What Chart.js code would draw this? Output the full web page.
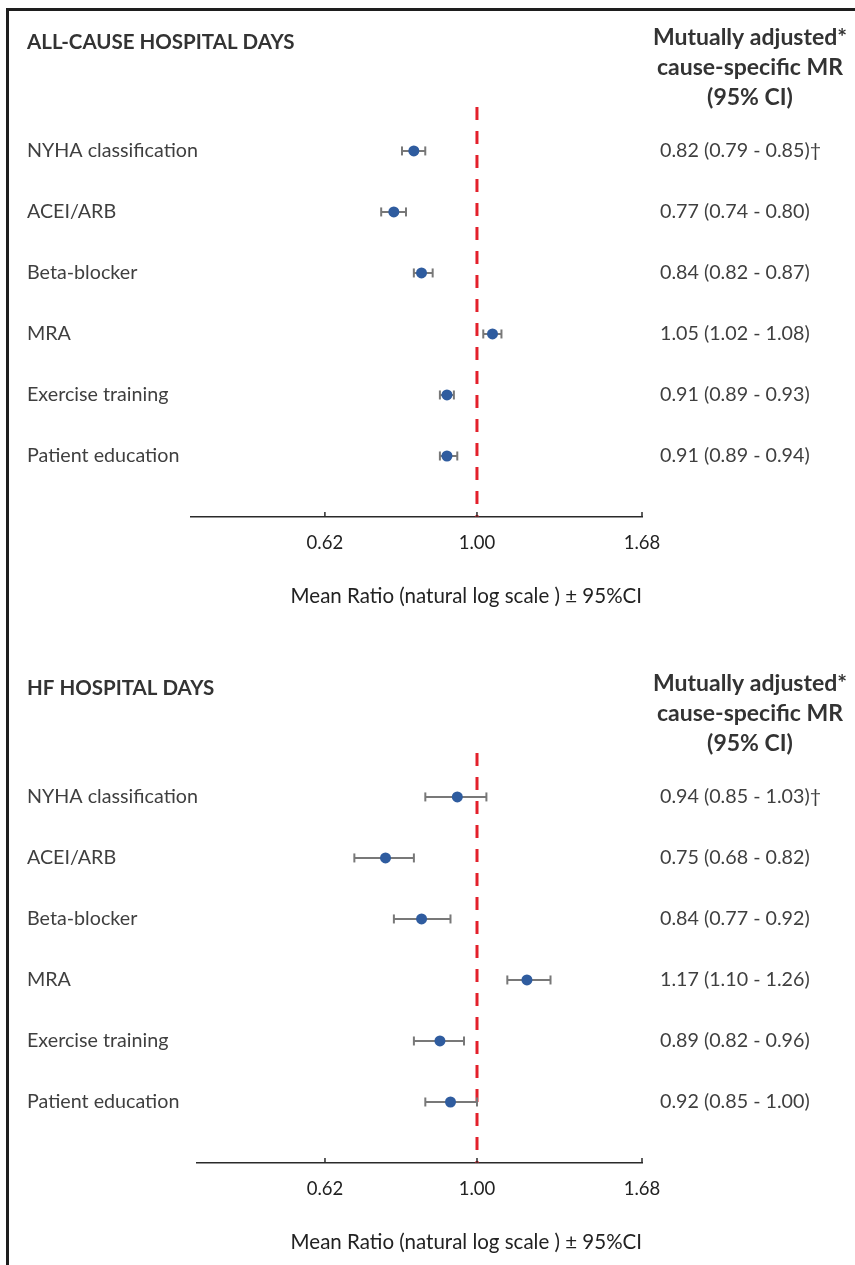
<!DOCTYPE html>
<html>
<head>
<meta charset="utf-8">
<title>Mutually adjusted cause-specific mean ratios</title>
<script src="https://cdn.jsdelivr.net/npm/chart.js@4.4.1/dist/chart.umd.min.js"></script>
<style>
  html, body { margin: 0; padding: 0; background: #ffffff; overflow: hidden; }
  body { width: 855px; height: 1265px; position: relative; }
  canvas { position: absolute; left: 0; }
  #frame {
    position: absolute; left: 6px; top: 8px; right: -20px; bottom: -20px;
    border-left: 3px solid #1e1e1e; border-top: 3px solid #1e1e1e;
    pointer-events: none;
  }
</style>
</head>
<body>
<canvas id="allCause" width="855" height="646" style="top:0"></canvas>
<canvas id="hfDays" width="855" height="646" style="top:646px"></canvas>
<div id="frame"></div>
<script>
// Rows, from top to bottom
const categories = ['NYHA classification', 'ACEI/ARB', 'Beta-blocker', 'MRA', 'Exercise training', 'Patient education'];
const rowNotes = ['†', '', '', '', '', ''];

// All-cause hospital days: mean ratio with 95% CI
const allCauseMR = [0.82, 0.77, 0.84, 1.05, 0.91, 0.91];
const allCauseLo = [0.79, 0.74, 0.82, 1.02, 0.89, 0.89];
const allCauseHi = [0.85, 0.80, 0.87, 1.08, 0.93, 0.94];

// HF hospital days: mean ratio with 95% CI
const hfMR = [0.94, 0.75, 0.84, 1.17, 0.89, 0.92];
const hfLo = [0.85, 0.68, 0.77, 1.10, 0.82, 0.85];
const hfHi = [1.03, 0.82, 0.92, 1.26, 0.96, 1.00];

// Axis
const xTickValues = [0.62, 1.00, 1.68];
const xMax = 1.68;
const nullValue = 1.00;
const axisTitle = 'Mean Ratio (natural log scale ) ± 95%CI';
const headerLines = ['Mutually adjusted*', 'cause-specific MR', '(95% CI)'];

const FONT = 'Lato, "Open Sans", sans-serif';
const TEXT = '#3f3f3f';
const LABEL_LEFT = 27;            // row labels start here
const Y_TOP = -0.72;              // a little room above the first row for the reference line
const Y_BOTTOM = categories.length;

function fmt(v) { return v.toFixed(2); }

// Panel headings drawn on the canvas once the chart is painted
const headingPlugin = {
  id: 'headings',
  afterDraw(chart, args, opts) {
    const ctx = chart.ctx;
    ctx.save();
    ctx.fillStyle = '#333333';
    ctx.textBaseline = 'middle';
    ctx.font = 'bold 20.5px ' + FONT;
    ctx.textAlign = 'left';
    ctx.fillText(opts.title, LABEL_LEFT, 42);
    ctx.font = 'bold 23px ' + FONT;
    ctx.textAlign = 'center';
    opts.header.forEach((line, i) => ctx.fillText(line, 750, 38 + i * 30));
    ctx.restore();
  }
};

// Short tick marks pointing up from the value axis
const innerTicksPlugin = {
  id: 'innerTicks',
  afterDraw(chart) {
    const xs = chart.scales.x;
    const ctx = chart.ctx;
    ctx.save();
    ctx.strokeStyle = '#2a2a2a';
    ctx.lineWidth = 1.5;
    xs.ticks.forEach(t => {
      const px = xs.getPixelForValue(t.value);
      ctx.beginPath();
      ctx.moveTo(px, xs.top);
      ctx.lineTo(px, xs.top - 5);
      ctx.stroke();
    });
    ctx.restore();
  }
};

function makePanel(canvasId, title, mr, lo, hi, plotLeft, xMin) {
  const dots = mr.map((v, i) => ({ x: v, y: i }));
  const whiskers = [];
  lo.forEach((l, i) => {
    whiskers.push({ x: l, y: i }, { x: hi[i], y: i }, { x: null, y: null });
  });
  const valueLabels = mr.map((v, i) => `${fmt(v)} (${fmt(lo[i])} - ${fmt(hi[i])})${rowNotes[i]}`);

  return new Chart(document.getElementById(canvasId), {
    type: 'scatter',
    data: {
      datasets: [
        {
          label: 'Mean ratio',
          data: dots,
          pointRadius: 5.5,
          pointBackgroundColor: '#2f5c9f',
          pointBorderWidth: 0,
          showLine: false
        },
        {
          label: '95% CI',
          type: 'line',
          data: whiskers,
          borderColor: '#787878',
          borderWidth: 2,
          spanGaps: false,
          pointStyle: 'line',
          pointRotation: 90,
          pointRadius: 4.5,
          pointBorderWidth: 2,
          pointBorderColor: '#787878',
          fill: false
        },
        {
          label: 'No effect',
          type: 'line',
          data: [{ x: nullValue, y: Y_TOP }, { x: nullValue, y: Y_BOTTOM }],
          borderColor: '#e3202b',
          borderWidth: 3,
          borderDash: [13, 11],
          pointRadius: 0,
          fill: false
        }
      ]
    },
    options: {
      responsive: false,
      animation: false,
      events: [],
      layout: { padding: { top: 107, left: LABEL_LEFT, right: 0, bottom: 0 } },
      plugins: {
        legend: { display: false },
        tooltip: { enabled: false },
        headings: { title: title, header: headerLines }
      },
      scales: {
        x: {
          type: 'logarithmic',
          position: 'bottom',
          min: xMin,
          max: xMax,
          afterBuildTicks: s => { s.ticks = xTickValues.map(v => ({ value: v })); },
          afterFit: s => { s.height = 129; },
          ticks: {
            callback: v => fmt(Number(v)),
            font: { family: FONT, size: 18.5 },
            color: '#222222',
            padding: 15,
            maxRotation: 0,
            autoSkip: false
          },
          grid: { display: false, drawTicks: false },
          border: { display: true, color: '#2a2a2a', width: 1.6 },
          title: {
            display: true,
            text: axisTitle,
            align: 'end',
            font: { family: FONT, size: 20.5 },
            color: '#222222',
            padding: { top: 0, bottom: 37 }
          }
        },
        y: {
          type: 'linear',
          position: 'left',
          reverse: true,
          min: Y_TOP,
          max: Y_BOTTOM,
          afterBuildTicks: s => { s.ticks = categories.map((c, i) => ({ value: i })); },
          afterFit: s => { s.width = plotLeft - LABEL_LEFT; },
          ticks: {
            callback: v => categories[v],
            // mirrored labels are laid out from the plot edge, so step back to the label column
            mirror: true,
            padding: LABEL_LEFT - plotLeft,
            font: { family: FONT, size: 19.7 },
            color: TEXT,
            autoSkip: false
          },
          grid: { display: false, drawTicks: false },
          border: { display: false }
        },
        y2: {
          type: 'linear',
          position: 'right',
          reverse: true,
          min: Y_TOP,
          max: Y_BOTTOM,
          afterBuildTicks: s => { s.ticks = categories.map((c, i) => ({ value: i })); },
          afterFit: s => { s.width = 213; },
          ticks: {
            callback: v => valueLabels[v],
            crossAlign: 'near',
            padding: 18,
            font: { family: FONT, size: 19.7 },
            color: TEXT,
            autoSkip: false
          },
          grid: { display: false, drawTicks: false },
          border: { display: false }
        }
      }
    },
    plugins: [headingPlugin, innerTicksPlugin]
  });
}

function build() {
  makePanel('allCause', 'ALL-CAUSE HOSPITAL DAYS', allCauseMR, allCauseLo, allCauseHi, 191, 0.407);
  makePanel('hfDays', 'HF HOSPITAL DAYS', hfMR, hfLo, hfHi, 197, 0.4146);
}

if (document.fonts && document.fonts.load) {
  Promise.all([
    document.fonts.load('20px Lato'),
    document.fonts.load('bold 20px Lato')
  ]).then(build, build);
} else {
  build();
}
</script>
</body>
</html>
